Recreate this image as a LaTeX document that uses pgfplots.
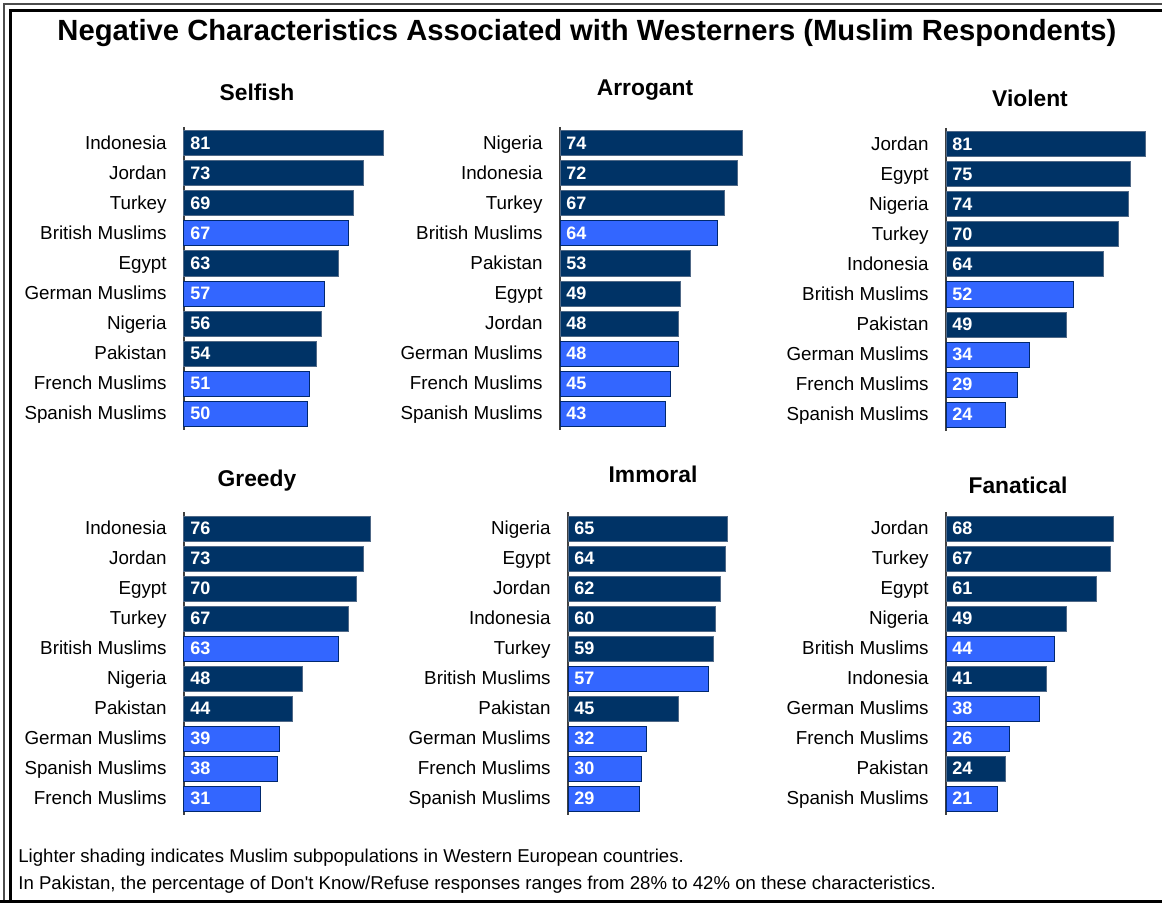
\documentclass[border=0pt]{standalone}
\usepackage{fontspec}
\setmainfont{Liberation Sans}
\usepackage{pgfplots}
\pgfplotsset{compat=1.18}
\definecolor{darkbar}{RGB}{0,51,102}
\definecolor{lightbar}{RGB}{51,102,255}
\definecolor{darkedge}{RGB}{80,105,135}
\definecolor{lightedge}{RGB}{0,40,110}
\pgfplotsset{
  panel/.style={
    x=1.23pt, y=15pt, xmin=0, xmax=85, ymin=0.45, ymax=10.55, y dir=reverse,
    axis x line=none, axis y line=left,
    y axis line style={-, black!75, line width=0.7pt},
    ytick={1,...,10}, major tick length=0pt,
    typeset ticklabels with strut,
    yticklabel style={font=\fontsize{9.4}{10}\selectfont, inner sep=0pt, xshift=-8.5pt, yshift=-1.2pt},
    clip=false,
  },
  dbar/.style={xbar, bar width=12.5pt, bar shift=0pt, fill=darkbar, draw=darkedge, line width=0.5pt},
  lbar/.style={xbar, bar width=12.5pt, bar shift=0pt, fill=lightbar, draw=lightedge, line width=0.5pt},
  vals/.style={draw=none, mark=none, nodes near coords, point meta=explicit symbolic,
     nodes near coords style={anchor=west, inner sep=0pt, xshift=3pt, text=white,
       font=\bfseries\fontsize{9}{10}\selectfont}},
}
\begin{document}
\begin{tikzpicture}
\useasboundingbox (0pt,0pt) rectangle (581pt,-451.5pt);
% frame
\draw[line width=0.7pt, black!70] (2pt,-452pt) -- (2pt,-2pt) -- (582pt,-2pt);
\draw[line width=1.5pt] (5.25pt,-452pt) -- (5.25pt,-5.25pt) -- (582pt,-5.25pt);
\draw[line width=1.2pt] (0pt,-450.7pt) -- (582pt,-450.7pt);
% main title
\node[font=\bfseries\fontsize{14.6}{16}\selectfont] at (293.5pt,-16.5pt)
  {Negative Characteristics Associated with Westerners (Muslim Respondents)};

% Selfish
\begin{axis}[panel, at={(92pt,-63.5pt)}, anchor=north west,
  yticklabels={Indonesia,Jordan,Turkey,British Muslims,Egypt,German Muslims,Nigeria,Pakistan,French Muslims,Spanish Muslims}]
\addplot[dbar] coordinates {(81,1) (73,2) (69,3) (63,5) (56,7) (54,8)};
\addplot[lbar] coordinates {(67,4) (57,6) (51,9) (50,10)};
\addplot[vals] coordinates {(0,1)[81] (0,2)[73] (0,3)[69] (0,4)[67] (0,5)[63] (0,6)[57] (0,7)[56] (0,8)[54] (0,9)[51] (0,10)[50]};
\end{axis}

% Arrogant
\begin{axis}[panel, at={(280pt,-63.5pt)}, anchor=north west,
  yticklabels={Nigeria,Indonesia,Turkey,British Muslims,Pakistan,Egypt,Jordan,German Muslims,French Muslims,Spanish Muslims}]
\addplot[dbar] coordinates {(74,1) (72,2) (67,3) (53,5) (49,6) (48,7)};
\addplot[lbar] coordinates {(64,4) (48,8) (45,9) (43,10)};
\addplot[vals] coordinates {(0,1)[74] (0,2)[72] (0,3)[67] (0,4)[64] (0,5)[53] (0,6)[49] (0,7)[48] (0,8)[48] (0,9)[45] (0,10)[43]};
\end{axis}

% Violent
\begin{axis}[panel, at={(473pt,-64pt)}, anchor=north west,
  yticklabels={Jordan,Egypt,Nigeria,Turkey,Indonesia,British Muslims,Pakistan,German Muslims,French Muslims,Spanish Muslims}]
\addplot[dbar] coordinates {(81,1) (75,2) (74,3) (70,4) (64,5) (49,7)};
\addplot[lbar] coordinates {(52,6) (34,8) (29,9) (24,10)};
\addplot[vals] coordinates {(0,1)[81] (0,2)[75] (0,3)[74] (0,4)[70] (0,5)[64] (0,6)[52] (0,7)[49] (0,8)[34] (0,9)[29] (0,10)[24]};
\end{axis}

% Greedy
\begin{axis}[panel, at={(92pt,-256pt)}, anchor=north west,
  yticklabels={Indonesia,Jordan,Egypt,Turkey,British Muslims,Nigeria,Pakistan,German Muslims,Spanish Muslims,French Muslims}]
\addplot[dbar] coordinates {(76,1) (73,2) (70,3) (67,4) (48,6) (44,7)};
\addplot[lbar] coordinates {(63,5) (39,8) (38,9) (31,10)};
\addplot[vals] coordinates {(0,1)[76] (0,2)[73] (0,3)[70] (0,4)[67] (0,5)[63] (0,6)[48] (0,7)[44] (0,8)[39] (0,9)[38] (0,10)[31]};
\end{axis}

% Immoral
\begin{axis}[panel, at={(284pt,-256pt)}, anchor=north west,
  yticklabels={Nigeria,Egypt,Jordan,Indonesia,Turkey,British Muslims,Pakistan,German Muslims,French Muslims,Spanish Muslims}]
\addplot[dbar] coordinates {(65,1) (64,2) (62,3) (60,4) (59,5) (45,7)};
\addplot[lbar] coordinates {(57,6) (32,8) (30,9) (29,10)};
\addplot[vals] coordinates {(0,1)[65] (0,2)[64] (0,3)[62] (0,4)[60] (0,5)[59] (0,6)[57] (0,7)[45] (0,8)[32] (0,9)[30] (0,10)[29]};
\end{axis}

% Fanatical
\begin{axis}[panel, at={(473pt,-256pt)}, anchor=north west,
  yticklabels={Jordan,Turkey,Egypt,Nigeria,British Muslims,Indonesia,German Muslims,French Muslims,Pakistan,Spanish Muslims}]
\addplot[dbar] coordinates {(68,1) (67,2) (61,3) (49,4) (41,6) (24,9)};
\addplot[lbar] coordinates {(44,5) (38,7) (26,8) (21,10)};
\addplot[vals] coordinates {(0,1)[68] (0,2)[67] (0,3)[61] (0,4)[49] (0,5)[44] (0,6)[41] (0,7)[38] (0,8)[26] (0,9)[24] (0,10)[21]};
\end{axis}

% panel titles
\begin{scope}[every node/.style={font=\bfseries\fontsize{11.4}{13}\selectfont}]
\node at (128.5pt,-46pt) {Selfish};
\node at (322.5pt,-45pt) {Arrogant};
\node at (515pt,-49pt) {Violent};
\node at (128.5pt,-240.5pt) {Greedy};
\node at (326.5pt,-237pt) {Immoral};
\node at (509pt,-242.5pt) {Fanatical};
\end{scope}

% footnotes
\begin{scope}[every node/.style={font=\fontsize{9.3}{10}\selectfont, anchor=west, inner sep=0pt}]
\node at (9pt,-429pt) {Lighter shading indicates Muslim subpopulations in Western European countries.};
\node at (9pt,-442.5pt) {In Pakistan, the percentage of {\addfontfeatures{Ligatures=TeXOff}Don't} Know/Refuse responses ranges from 28\% to 42\% on these characteristics.};
\end{scope}
\end{tikzpicture}
\end{document}
